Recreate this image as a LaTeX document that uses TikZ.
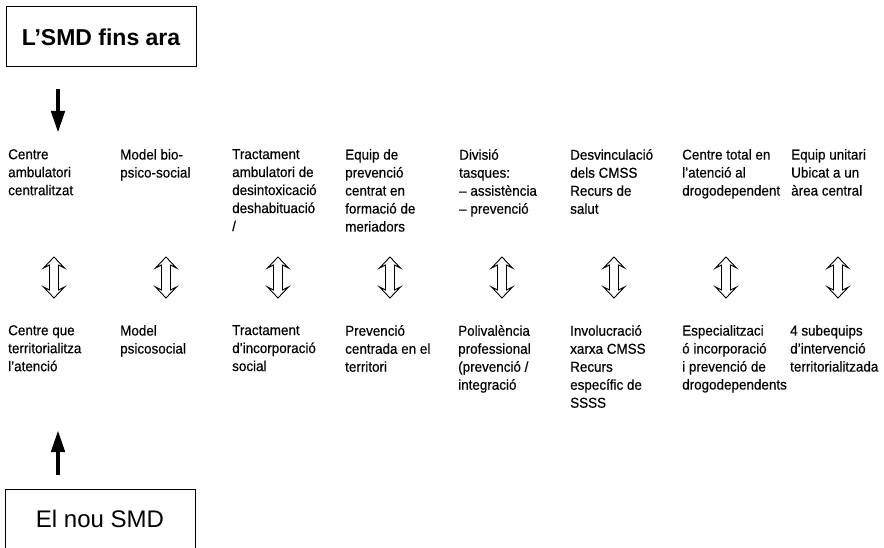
\documentclass[tikz,border=0pt]{standalone}
\usepackage{fontspec}
\setmainfont{Liberation Sans}[FakeStretch=0.94, FakeBold=0.4]
\newfontfamily\boxfont{Liberation Sans}
\usetikzlibrary{arrows.meta}
\tikzset{
  col/.style={anchor=north west, inner sep=0pt, align=left,
    font=\fontsize{14.3}{18}\selectfont},
  titlebox/.style={draw, line width=0.8pt},
  thickarrow/.style={line width=4.5pt, -{Triangle[length=22pt, width=13pt]}},
  dblarrow/.pic={\draw[line width=0.9pt, fill=white, line join=miter]
    (0,-20.5) -- (-10.5,-9.5) -- (-4.5,-12.5) -- (-4.5,12.5) -- (-10.5,9.5) -- (0,20.5)
    -- (10.5,9.5) -- (4.5,12.5) -- (4.5,-12.5) -- (10.5,-9.5) -- cycle;}
}
\begin{document}
\begin{tikzpicture}[x=1pt, y=-1pt]
\useasboundingbox[fill=white] (0,0) rectangle (884,548);
% top box
\draw[titlebox] (6,6) rectangle (196,66);
\node[font=\boxfont\bfseries\fontsize{23}{26}\selectfont, inner sep=0pt] (old) at (101,37) {L’SMD fins ara};
% bottom box (cut by the lower edge)
\draw[titlebox] (5,550) -- (5,489) -- (195,489) -- (195,550);
\node[font=\boxfont\fontsize{24}{27}\selectfont, inner sep=0pt] (new) at (100,519) {El nou SMD};
% single arrows
\coordinate (da1) at (58,89);
\coordinate (da2) at (58,133);
\draw[thickarrow] (da1) -- (da2);
\coordinate (ua1) at (58,475);
\coordinate (ua2) at (58,430);
\draw[thickarrow] (ua1) -- (ua2);
% top row
\node[col] (t1) at (8,149) {Centre\\ambulatori\\centralitzat};
\node[col] (t2) at (120,149) {Model bio-\\psico-social};
\node[col] (t3) at (232,149) {Tractament\\ambulatori de\\desintoxicació\\deshabituació\\/};
\node[col] (t4) at (345,149) {Equip de\\prevenció\\centrat en\\formació de\\meriadors};
\node[col] (t5) at (459,149) {Divisió\\tasques:\\– assistència\\– prevenció};
\node[col] (t6) at (570,149) {Desvinculació\\dels CMSS\\Recurs de\\salut};
\node[col] (t7) at (682,149) {Centre total en\\l’atenció al\\drogodependent};
\node[col] (t8) at (791,149) {Equip unitari\\Ubicat a un\\àrea central};
% bottom row
\node[col] (b1) at (8,325) {Centre que\\territorialitza\\l’atenció};
\node[col] (b2) at (120,325) {Model\\psicosocial};
\node[col] (b3) at (232,325) {Tractament\\d’incorporació\\social};
\node[col] (b4) at (345,325) {Prevenció\\centrada en el\\territori};
\node[col] (b5) at (458,325) {Polivalència\\professional\\(prevenció /\\integració};
\node[col] (b6) at (570,325) {Involucració\\xarxa CMSS\\Recurs\\específic de\\SSSS};
\node[col] (b7) at (682,325) {Especialitzaci\\ó incorporació\\i prevenció de\\drogodependents};
\node[col] (b8) at (790,325) {4 subequips\\d’intervenció\\territorialitzada};
% double arrows
\foreach \i in {0,...,7} {
  \coordinate (m\i) at (54+112*\i,277.5);
  \pic at (m\i) {dblarrow};
}
\end{tikzpicture}
\end{document}
